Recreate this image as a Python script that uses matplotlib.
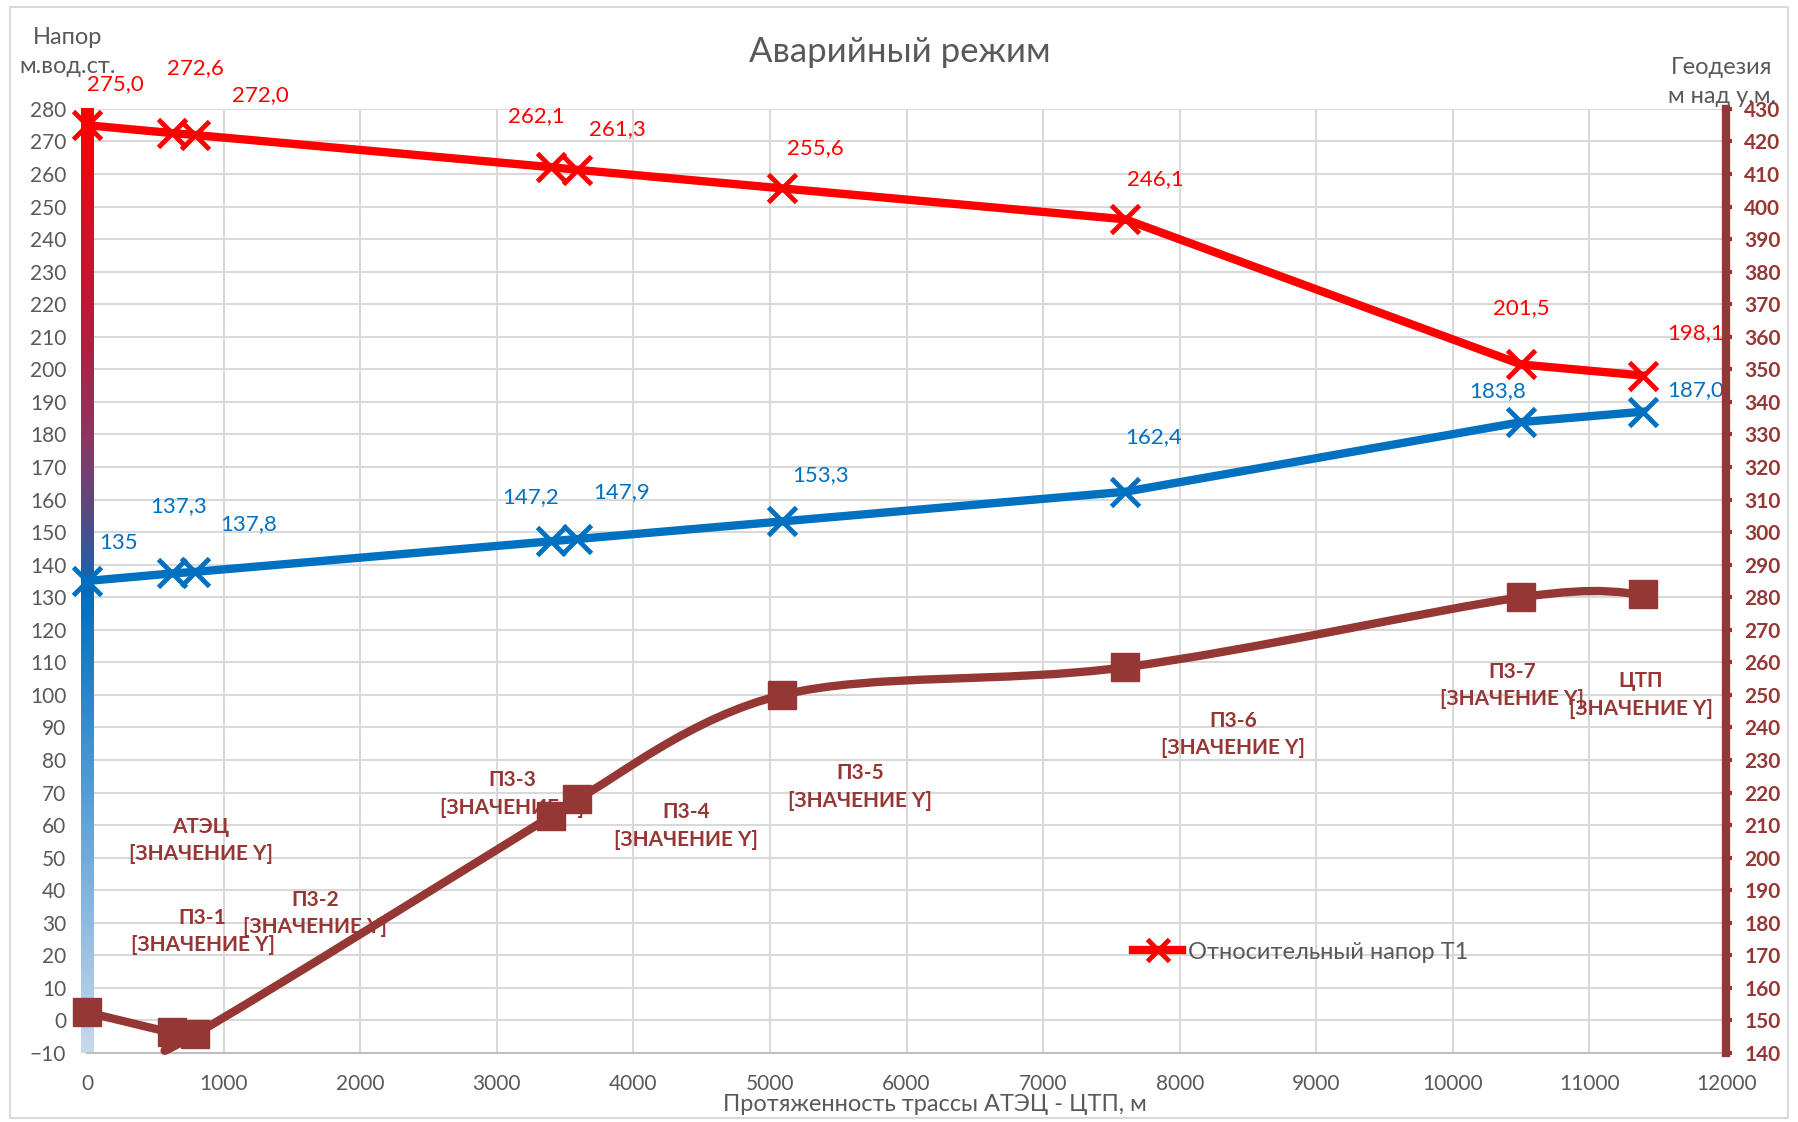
import numpy as np
import matplotlib as mpl
import matplotlib.pyplot as plt
from matplotlib.path import Path
from matplotlib.patches import PathPatch, Rectangle
from matplotlib.colors import LinearSegmentedColormap
from matplotlib.lines import Line2D

plt.rcParams['font.family'] = ['Lato', 'DejaVu Sans']

# расстояние от АТЭЦ, м
dist = [0, 620, 790, 3400, 3590, 5090, 7600, 10500, 11390]
# относительный напор T1 (левая ось)
head_t1 = [275.0, 272.6, 272.0, 262.1, 261.3, 255.6, 246.1, 201.5, 198.1]
# вторая линия напора (левая ось)
head_t2 = [135, 137.3, 137.8, 147.2, 147.9, 153.3, 162.4, 183.8, 187.0]
# геодезия (правая ось)
geo = [152.5, 146.3, 145.7, 212.8, 218.0, 250.0, 258.5, 280.0, 281.0]
points = ['АТЭЦ', 'П3-1', 'П3-2', 'П3-3', 'П3-4', 'П3-5', 'П3-6', 'П3-7', 'ЦТП']
t2_labels = ['135', '137,3', '137,8', '147,2', '147,9', '153,3', '162,4', '183,8', '187,0']

# смещения подписей (пиксели)
off_t1 = [(28, 41), (24, 65), (65, 40), (-15, 51), (40, 41), (33, 40), (30, 40), (0, 56), (53, 42)]
off_t2 = [(31, 38), (7, 67), (54, 48), (-21, 44), (44, 47), (38, 46), (28, 55), (-24, 31), (53, 22)]
off_geo = [(114, 172), (31, 101), (120, 121), (-39, 22), (109, -27), (78, -92), (108, -67), (-9, -88), (-2, -101)]

RED = '#ff0000'
BLUE = '#0070c0'
BROWN = '#953735'
GRAY = '#595959'

fig = plt.figure(figsize=(17.98, 11.22), dpi=100)
ax = fig.add_axes([0.0484, 0.0615, 0.9116, 0.8414])
ax2 = ax.twinx()

# сетка
ax.set_xlim(0, 12000)
ax.set_ylim(-10, 280)
ax.set_xticks(np.arange(0, 12001, 1000))
ax.set_yticks(np.arange(-10, 281, 10))
ax.grid(True, color='#d9d9d9', lw=1.5)
ax.set_axisbelow(True)
for s in ['left', 'right', 'top']:
    ax.spines[s].set_visible(False)
ax.spines['bottom'].set_color('#bfbfbf')
ax.spines['bottom'].set_linewidth(1.5)
ax.tick_params(axis='both', length=0, labelsize=15, labelcolor=GRAY)
ax.tick_params(axis='x', pad=15)
ax.tick_params(axis='y', pad=15)

# градиентная левая ось
cmap = LinearSegmentedColormap.from_list('axis_grad', [
    (0.0, '#ff0000'), (0.1, '#dc0c22'), (0.25, '#b01f40'), (0.35, '#8a3862'),
    (0.43, '#584a82'), (0.48, '#2c5b9c'), (0.52, '#0070c0'), (1.0, '#c8d8ec')])
grad = np.linspace(0, 1, 300).reshape(-1, 1)
ax.imshow(grad, cmap=cmap, extent=[-45, 45, -10, 280], aspect='auto',
          origin='upper', clip_on=False, zorder=1.5)
ax.set_xlim(0, 12000)
ax.set_ylim(-10, 280)

ax.plot(dist, head_t1, color=RED, lw=6, marker='x', ms=20, mew=3.5,
        clip_on=False, zorder=3)
ax.plot(dist, head_t2, color=BLUE, lw=6, marker='x', ms=20, mew=3.5,
        clip_on=False, zorder=3)

for x, v, o in zip(dist, head_t1, off_t1):
    ax.annotate(f'{v:.1f}'.replace('.', ','), (x, v), xytext=(o[0], o[1]),
                textcoords='offset pixels', ha='center', va='center',
                color=RED, fontsize=16, annotation_clip=False)
for x, v, lab, o in zip(dist, head_t2, t2_labels, off_t2):
    ax.annotate(lab, (x, v), xytext=(o[0], o[1]),
                textcoords='offset pixels', ha='center', va='center',
                color=BLUE, fontsize=16, annotation_clip=False)

# геодезия: сглаженная линия (кривые Безье как в Excel)
ax2.set_ylim(140, 430)
ax2.set_yticks(np.arange(140, 431, 10))
gx = np.array(dist, dtype=float)
gy = np.array(geo, dtype=float)
n = len(gx)
verts = [(gx[0], gy[0])]
codes = [Path.MOVETO]
for i in range(n - 1):
    p0 = max(i - 1, 0)
    p3 = min(i + 2, n - 1)
    c1 = (gx[i] + (gx[i + 1] - gx[p0]) / 6, gy[i] + (gy[i + 1] - gy[p0]) / 6)
    c2 = (gx[i + 1] - (gx[p3] - gx[i]) / 6, gy[i + 1] - (gy[p3] - gy[i]) / 6)
    verts += [c1, c2, (gx[i + 1], gy[i + 1])]
    codes += [Path.CURVE4] * 3
ax2.add_patch(PathPatch(Path(verts, codes), facecolor='none', edgecolor=BROWN,
                        lw=6, capstyle='round', joinstyle='round', clip_on=False))
ax2.plot(dist, geo, ls='none', marker='s', ms=20, color=BROWN, clip_on=False)

for x, v, name, o in zip(dist, geo, points, off_geo):
    ax2.annotate(name + '\n[ЗНАЧЕНИЕ Y]', (x, v), xytext=(o[0], o[1]),
                 textcoords='offset pixels', ha='center', va='center',
                 color=BROWN, fontsize=15, fontweight='bold',
                 linespacing=1.45, annotation_clip=False)

for s in ['left', 'top', 'bottom']:
    ax2.spines[s].set_visible(False)
ax2.spines['right'].set_color(BROWN)
ax2.spines['right'].set_linewidth(6)
ax2.tick_params(axis='y', colors=BROWN, length=4, width=3, pad=9,
                labelsize=15)
for t in ax2.get_yticklabels():
    t.set_fontweight('bold')

# подписи
fig.text(0.5006, 0.9537, 'Аварийный режим', ha='center', va='center',
         fontsize=25, color=GRAY)
fig.text(0.0378, 0.9537, 'Напор\nм.вод.ст.', ha='center', va='center',
         fontsize=17, color=GRAY, linespacing=1.45)
fig.text(0.9577, 0.9269, 'Геодезия\nм над у.м.', ha='center', va='center',
         fontsize=17, color=GRAY, linespacing=1.45)
fig.text(0.52, 0.0160, 'Протяженность трассы АТЭЦ - ЦТП, м', ha='center',
         va='center', fontsize=17, color=GRAY)

h = Line2D([], [], color=RED, lw=6, marker='x', ms=16, mew=3.5)
ax2.legend(handles=[h], labels=['Относительный напор T1'], loc='center left',
           bbox_to_anchor=(0.630, 0.1515), bbox_transform=fig.transFigure,
           frameon=False, fontsize=17, labelcolor=GRAY, handlelength=2.1,
           handletextpad=0.25, borderpad=0, borderaxespad=0)

fig.add_artist(Rectangle((0.0056, 0.004), 0.9889, 0.99, transform=fig.transFigure,
                         fill=False, edgecolor='#d9d9d9', lw=1.5))

fig.savefig('out.png', dpi=100)
